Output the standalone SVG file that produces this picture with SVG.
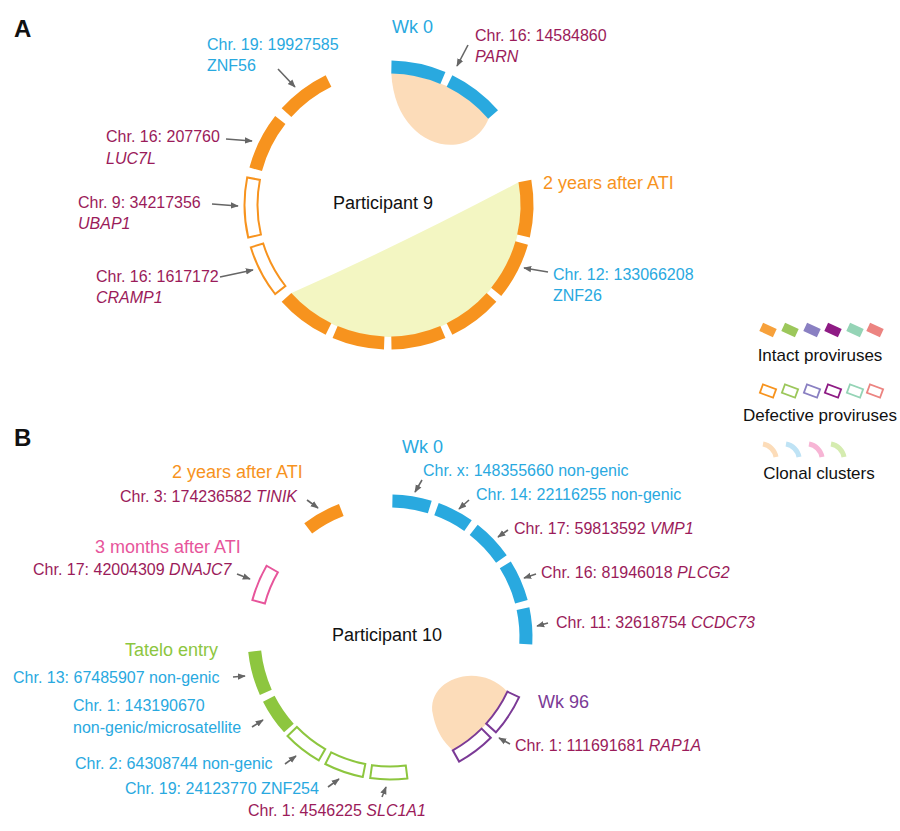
<svg xmlns="http://www.w3.org/2000/svg" width="900" height="831" viewBox="0 0 900 831">
<style>
text{font-family:"Liberation Sans",Arial,sans-serif;font-size:16px}
.t{font-size:18px}
.lg{font-size:17px}
.bl{fill:#29a9df}.or{fill:#f7931e}.cr{fill:#9b1b5a}.gr{fill:#8dc63f}.pk{fill:#e7559b}.pu{fill:#7b3a96}.bk{fill:#111}
.i{font-style:italic}
.seg{fill:none;stroke-width:13}
.out{fill:#fff;stroke-width:2}
.ar{stroke:#666;stroke-width:1.6;fill:none;marker-end:url(#ah)}
</style>
<defs>
<marker id="ah" viewBox="0 0 10 10" refX="9" refY="5" markerWidth="5" markerHeight="5" orient="auto"><path d="M0,1 L10,5 L0,9 Z" fill="#666"/></marker>
</defs>
<rect width="900" height="831" fill="#fff"/>
<text x="14" y="37" style="font-size:24px;font-weight:bold" class="bk">A</text>
<text x="14" y="446" style="font-size:24px;font-weight:bold" class="bk">B</text>

<g id="clusterA">
<path d="M519,182.1 Q400,245 290.9,293.3 A132 132 0 0 0 519,182.1 Z" fill="#f3f6c2"/>
<path d="M391.3,73 A132 132 0 0 1 488.6,118.4 C470,165 395,150 391.3,73 Z" fill="#fcdcb9"/>
</g>
<g id="ringA">
<g stroke="#f7931e">
<path class="seg" d="M286.5,112.7 A138 138 0 0 1 328.5,81"/>
<path class="seg" d="M255.7,169.3 A138 138 0 0 1 280.3,120"/>
<path class="out" d="M248.2,237.5 A144.5 144.5 0 0 1 247.2,177.4 L259.9,179.9 A131.5 131.5 0 0 0 260.9,234.6 Z"/>
<path class="out" d="M275.1,294 A144.5 144.5 0 0 1 250.8,247.3 L263.2,243.5 A131.5 131.5 0 0 0 285.4,286 Z"/>
<path class="seg" d="M328.5,329 A138 138 0 0 1 286.5,297.3"/>
<path class="seg" d="M384.2,342.9 A138 138 0 0 1 335.1,332"/>
<path class="seg" d="M442.9,332 A138 138 0 0 1 391.4,343"/>
<path class="seg" d="M491.5,297.3 A138 138 0 0 1 449.5,329"/>
<path class="seg" d="M521.7,243 A138 138 0 0 1 496.2,291.8"/>
<path class="seg" d="M524.9,181 A138 138 0 0 1 523.5,236"/>
</g>
<g stroke="#29a9df">
<path class="seg" d="M391.4,67 A138 138 0 0 1 442.9,78"/>
<path class="seg" d="M449.5,81 A138 138 0 0 1 493.1,114.5"/>
</g>
</g>

<g id="labelsA">
<text x="207" y="50" class="bl">Chr. 19: 19927585</text>
<text x="207" y="71" class="bl">ZNF56</text>
<text x="392" y="33" class="t bl">Wk 0</text>
<text x="475" y="41" class="cr">Chr. 16: 14584860</text>
<text x="475" y="62" class="cr i">PARN</text>
<text x="106" y="142" class="cr">Chr. 16: 207760</text>
<text x="106" y="164" class="cr i">LUC7L</text>
<text x="78" y="208" class="cr">Chr. 9: 34217356</text>
<text x="78" y="229" class="cr i">UBAP1</text>
<text x="96" y="282" class="cr">Chr. 16: 1617172</text>
<text x="96" y="303" class="cr i">CRAMP1</text>
<text x="333" y="209" class="t bk">Participant 9</text>
<text x="543" y="189" class="t or">2 years after ATI</text>
<text x="553" y="280" class="bl">Chr. 12: 133066208</text>
<text x="553" y="301" class="bl">ZNF26</text>
</g>

<g id="clusterB">
<path d="M507.4,691.7 C478,660 425,680 433,715 C437,735 447,745 452.8,750.3 A129.5 129.5 0 0 0 507.4,691.7 Z" fill="#fcdcb9"/>
</g>
<g id="ringB">
<path class="seg" stroke="#f7931e" d="M308.2,528.4 A136 136 0 0 1 341.3,510"/>
<path class="out" stroke="#e7559b" d="M252.4,600.1 A142.5 142.5 0 0 1 266.6,565.75 L277.9,572.25 A129.5 129.5 0 0 0 264.9,603.5 Z"/>
<g stroke="#29a9df">
<path class="seg" d="M392.4,501 A136 136 0 0 1 429.8,507"/>
<path class="seg" d="M436.5,509.2 A136 136 0 0 1 468,525.6"/>
<path class="seg" d="M473.7,529.8 A136 136 0 0 1 501.4,559"/>
<path class="seg" d="M505.3,564.9 A136 136 0 0 1 521.4,601.8"/>
<path class="seg" d="M523,608.7 A136 136 0 0 1 525.8,644.1"/>
</g>
<g stroke="#8dc63f">
<path class="seg" d="M265.8,692.3 A136 136 0 0 1 254.7,651.2"/>
<path class="seg" d="M288.9,728 A136 136 0 0 1 268.8,698.7"/>
<path class="out" d="M318.75,760.4 A142.5 142.5 0 0 1 287.5,736 L296.9,727 A129.5 129.5 0 0 0 325.25,749.1 Z"/>
<path class="out" d="M362.8,776.9 A142.5 142.5 0 0 1 325.3,764 L331.2,752.4 A129.5 129.5 0 0 0 365.3,764.1 Z"/>
<path class="out" d="M407.4,778.4 A142.5 142.5 0 0 1 370.2,778.1 L372,765.2 A129.5 129.5 0 0 0 405.8,765.5 Z"/>
</g>
<g stroke="#7b3a96">
<path class="out" d="M519.1,697.2 A142.5 142.5 0 0 1 495.9,732.3 L486.2,723.6 A129.5 129.5 0 0 0 507.4,691.7 Z"/>
<path class="out" d="M490.8,737.8 A142.5 142.5 0 0 1 459.1,761.6 L452.8,750.3 A129.5 129.5 0 0 0 481.6,728.6 Z"/>
</g>
</g>

<g id="labelsB">
<text x="402" y="453" class="t bl">Wk 0</text>
<text x="172" y="478" class="t or">2 years after ATI</text>
<text x="120" y="502" class="cr">Chr. 3: 174236582 <tspan class="i">TINIK</tspan></text>
<text x="95" y="553" class="t pk">3 months after ATI</text>
<text x="33" y="575" class="cr">Chr. 17: 42004309 <tspan class="i">DNAJC7</tspan></text>
<text x="423" y="476" class="bl">Chr. x: 148355660 non-genic</text>
<text x="476" y="500" class="bl">Chr. 14: 22116255 non-genic</text>
<text x="514" y="534" class="cr">Chr. 17: 59813592 <tspan class="i">VMP1</tspan></text>
<text x="541" y="578" class="cr">Chr. 16: 81946018 <tspan class="i">PLCG2</tspan></text>
<text x="556" y="628" class="cr">Chr. 11: 32618754 <tspan class="i">CCDC73</tspan></text>
<text x="332" y="641" class="t bk">Participant 10</text>
<text x="538" y="708" class="t pu">Wk 96</text>
<text x="515" y="751" class="cr">Chr. 1: 111691681 <tspan class="i">RAP1A</tspan></text>
<text x="125" y="656" class="t gr">Tatelo entry</text>
<text x="13" y="683" class="bl">Chr. 13: 67485907 non-genic</text>
<text x="73" y="711" class="bl">Chr. 1: 143190670</text>
<text x="73" y="733" class="bl">non-genic/microsatellite</text>
<text x="75" y="769" class="bl">Chr. 2: 64308744 non-genic</text>
<text x="125" y="794" class="bl">Chr. 19: 24123770 ZNF254</text>
<text x="248" y="816" class="cr">Chr. 1: 4546225 <tspan class="i">SLC1A1</tspan></text>
</g>

<g id="connectors">
<path class="ar" d="M278,69 L295,87"/>
<path class="ar" d="M468,45 L457,66"/>
<path class="ar" d="M226,139 L252,141"/>
<path class="ar" d="M212,204 L238,206"/>
<path class="ar" d="M220,277 L253,270"/>
<path class="ar" d="M548,272 L524,268"/>
<path class="ar" d="M307,500 L318,508"/>
<path class="ar" d="M237,574 L250,579"/>
<path class="ar" d="M422,480 L415,492"/>
<path class="ar" d="M469,500 L459,509"/>
<path class="ar" d="M508,530 L498,537"/>
<path class="ar" d="M536,574 L524,578"/>
<path class="ar" d="M548,623 L537,626"/>
<path class="ar" d="M510,744 L499,738"/>
<path class="ar" d="M233,677 L245,676"/>
<path class="ar" d="M252,727 L263,720"/>
<path class="ar" d="M285,764 L296,756"/>
<path class="ar" d="M328,787 L339,779"/>
<path class="ar" d="M382,797 L386,787"/>
</g>

<g id="legend">
<g>
<rect x="-7.5" y="-4.5" width="15" height="9" fill="#f7a13b" transform="translate(768,330) rotate(25)"/>
<rect x="-7.5" y="-4.5" width="15" height="9" fill="#9cc75b" transform="translate(790,330) rotate(25)"/>
<rect x="-7.5" y="-4.5" width="15" height="9" fill="#8a80c2" transform="translate(812,330) rotate(25)"/>
<rect x="-7.5" y="-4.5" width="15" height="9" fill="#8e1b84" transform="translate(833,330) rotate(25)"/>
<rect x="-7.5" y="-4.5" width="15" height="9" fill="#95d4b6" transform="translate(855,330) rotate(25)"/>
<rect x="-7.5" y="-4.5" width="15" height="9" fill="#ec8481" transform="translate(875,330) rotate(25)"/>
</g>
<text x="820" y="361" text-anchor="middle" class="lg bk">Intact proviruses</text>
<g fill="#fff" stroke-width="1.8">
<rect x="-7" y="-4.5" width="14" height="9" stroke="#f7931e" transform="translate(768,391) rotate(20)"/>
<rect x="-7" y="-4.5" width="14" height="9" stroke="#9cc75b" transform="translate(790,391) rotate(20)"/>
<rect x="-7" y="-4.5" width="14" height="9" stroke="#8a80c2" transform="translate(812,391) rotate(20)"/>
<rect x="-7" y="-4.5" width="14" height="9" stroke="#8e1b84" transform="translate(833,391) rotate(20)"/>
<rect x="-7" y="-4.5" width="14" height="9" stroke="#95d4b6" transform="translate(855,391) rotate(20)"/>
<rect x="-7" y="-4.5" width="14" height="9" stroke="#ec8481" transform="translate(875,391) rotate(20)"/>
</g>
<text x="820" y="421" text-anchor="middle" class="lg bk">Defective proviruses</text>
<g fill="none" stroke-width="5">
<path d="M763,444 A16 16 0 0 1 776,457" stroke="#fcdcb9"/>
<path d="M786,444 A16 16 0 0 1 799,457" stroke="#bfe3f5"/>
<path d="M809,444 A16 16 0 0 1 822,457" stroke="#f7b5d5"/>
<path d="M831,444 A16 16 0 0 1 844,457" stroke="#d5ecb0"/>
</g>
<text x="819" y="479" text-anchor="middle" class="lg bk">Clonal clusters</text>
</g>
</svg>
